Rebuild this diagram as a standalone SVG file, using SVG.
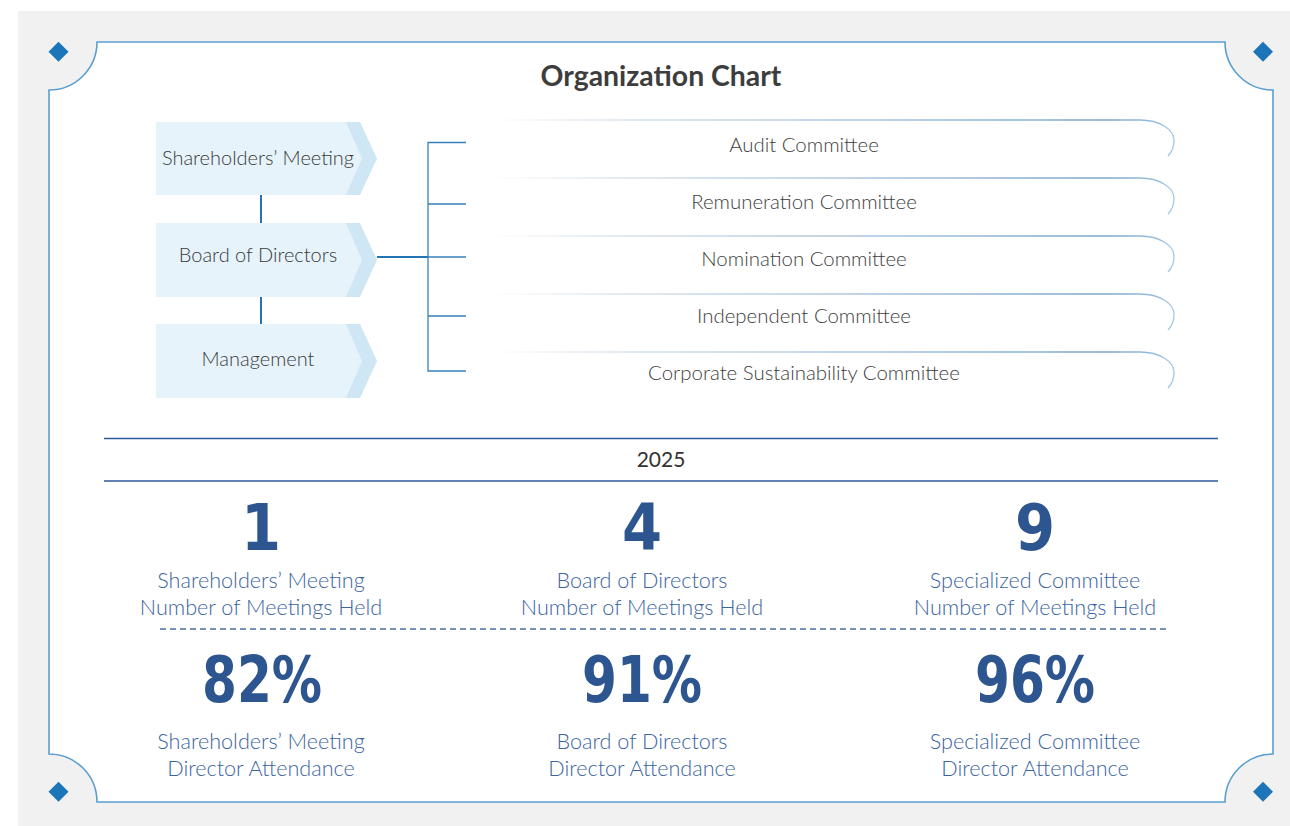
<svg xmlns="http://www.w3.org/2000/svg" width="1290" height="826" viewBox="0 0 1290 826">
<defs>
<style>
.lbl{font-family:Lato,"Liberation Sans",sans-serif;font-weight:300;font-size:20px;fill:#3a3a3a;text-anchor:middle}
.cm{font-family:Lato,"Liberation Sans",sans-serif;font-weight:300;font-size:20.4px;fill:#3e3e3e;text-anchor:middle}
.num{font-family:"DejaVu Sans Condensed","DejaVu Sans",sans-serif;font-stretch:condensed;font-weight:bold;font-size:64px;fill:#2d5590;text-anchor:middle}
.cap{font-family:Lato,"Liberation Sans",sans-serif;font-weight:300;font-size:21.6px;fill:#3b64a2;text-anchor:middle}
.dia{fill:#1b75b8}
.conn{stroke:#2474b5;stroke-width:2;fill:none}
.br{stroke:#3a80bb;stroke-width:1.3;fill:none}
.light{fill:#e6f3fa}
.dark{fill:#cfe6f5}
.crow{fill:none;stroke:url(#cg);stroke-width:1.3}
</style>
<linearGradient id="cg" gradientUnits="userSpaceOnUse" x1="490" y1="0" x2="1175" y2="0">
<stop offset="0" stop-color="#ffffff"/>
<stop offset="0.2" stop-color="#d8e3ec"/>
<stop offset="0.9" stop-color="#7aa6cc"/>
<stop offset="1" stop-color="#a6c8e4"/>
</linearGradient>
</defs>
<rect x="18" y="11" width="1272" height="815" fill="#f1f1f1"/>
<path d="M97 42 H1225 A48 48 0 0 0 1273 90 V754 A48 48 0 0 0 1225 802 H97 A48 48 0 0 0 49 754 V90 A48 48 0 0 0 97 42 Z" fill="#fff" stroke="#5a9fd0" stroke-width="1.6"/>
<polygon class="dia" points="58.5,41.7 68.5,51.7 58.5,61.7 48.5,51.7"/>
<polygon class="dia" points="1263,41.7 1273,51.7 1263,61.7 1253,51.7"/>
<polygon class="dia" points="58.5,781.7 68.5,791.7 58.5,801.7 48.5,791.7"/>
<polygon class="dia" points="1263,781.7 1273,791.7 1263,801.7 1253,791.7"/>
<text x="661" y="86" font-family="Lato,'Liberation Sans',sans-serif" font-size="28.4" font-weight="bold" fill="#3d3d3d" text-anchor="middle">Organization Chart</text>

<g id="connectors">
<line class="conn" x1="261" y1="195" x2="261" y2="223"/>
<line class="conn" x1="261" y1="297" x2="261" y2="324"/>
<line class="conn" x1="377" y1="257" x2="428" y2="257"/>
<path class="br" d="M466 142.5 H428 V371 H466 M428 204 H466 M428 257 H466 M428 316 H466"/>
</g>

<g id="n-shareholders">
<polygon class="dark" points="346,122 360,122 377,158.5 360,195 346,195"/>
<polygon class="light" points="156,122 346,122 362,158.5 346,195 156,195"/>
<text class="lbl" x="258" y="165">Shareholders’ Meeting</text>
</g>
<g id="n-board">
<polygon class="dark" points="346,223 360,223 377,260 360,297 346,297"/>
<polygon class="light" points="156,223 346,223 362,260 346,297 156,297"/>
<text class="lbl" x="258" y="262">Board of Directors</text>
</g>
<g id="n-management">
<polygon class="dark" points="346,324 360,324 377,361 360,398 346,398"/>
<polygon class="light" points="156,324 346,324 362,361 346,398 156,398"/>
<text class="lbl" x="258" y="366">Management</text>
</g>

<g id="n-audit">
<path class="crow" d="M490 120 H1140 C1160 120 1174 130 1174 140 C1174 147 1172 152 1168 156"/>
<text class="cm" x="804" y="152">Audit Committee</text>
</g>
<g id="n-remuneration">
<path class="crow" d="M490 178 H1140 C1160 178 1174 188 1174 198 C1174 205 1172 210 1168 214"/>
<text class="cm" x="804" y="209">Remuneration Committee</text>
</g>
<g id="n-nomination">
<path class="crow" d="M490 236 H1140 C1160 236 1174 246 1174 256 C1174 263 1172 268 1168 272"/>
<text class="cm" x="804" y="266">Nomination Committee</text>
</g>
<g id="n-independent">
<path class="crow" d="M490 294 H1140 C1160 294 1174 304 1174 314 C1174 321 1172 326 1168 330"/>
<text class="cm" x="804" y="323">Independent Committee</text>
</g>
<g id="n-csc">
<path class="crow" d="M490 352 H1140 C1160 352 1174 362 1174 372 C1174 379 1172 384 1168 388"/>
<text class="cm" x="804" y="380">Corporate Sustainability Committee</text>
</g>

<g id="year">
<line x1="104" y1="438.5" x2="1218" y2="438.5" stroke="#2b5a9a" stroke-width="1.5"/>
<line x1="104" y1="481" x2="1218" y2="481" stroke="#2b5a9a" stroke-width="1.5"/>
<text x="661" y="467" font-family="Lato,'Liberation Sans',sans-serif" font-size="21" fill="#333" text-anchor="middle">2025</text>
</g>

<g id="s-sh-meetings">
<text class="num" x="261" y="550">1</text>
<text class="cap" x="261" y="588">Shareholders’ Meeting</text>
<text class="cap" x="261" y="615">Number of Meetings Held</text>
</g>
<g id="s-bd-meetings">
<text class="num" x="642" y="550">4</text>
<text class="cap" x="642" y="588">Board of Directors</text>
<text class="cap" x="642" y="615">Number of Meetings Held</text>
</g>
<g id="s-sc-meetings">
<text class="num" x="1035" y="550">9</text>
<text class="cap" x="1035" y="588">Specialized Committee</text>
<text class="cap" x="1035" y="615">Number of Meetings Held</text>
</g>
<line x1="160" y1="629" x2="1168" y2="629" stroke="#4a6fa5" stroke-width="1.3" stroke-dasharray="6 4"/>
<g id="s-sh-att">
<text class="num" x="262" y="702" textLength="120" lengthAdjust="spacingAndGlyphs">82%</text>
<text class="cap" x="261" y="749">Shareholders’ Meeting</text>
<text class="cap" x="261" y="776">Director Attendance</text>
</g>
<g id="s-bd-att">
<text class="num" x="642" y="702" textLength="120" lengthAdjust="spacingAndGlyphs">91%</text>
<text class="cap" x="642" y="749">Board of Directors</text>
<text class="cap" x="642" y="776">Director Attendance</text>
</g>
<g id="s-sc-att">
<text class="num" x="1035" y="702" textLength="120" lengthAdjust="spacingAndGlyphs">96%</text>
<text class="cap" x="1035" y="749">Specialized Committee</text>
<text class="cap" x="1035" y="776">Director Attendance</text>
</g>
</svg>
